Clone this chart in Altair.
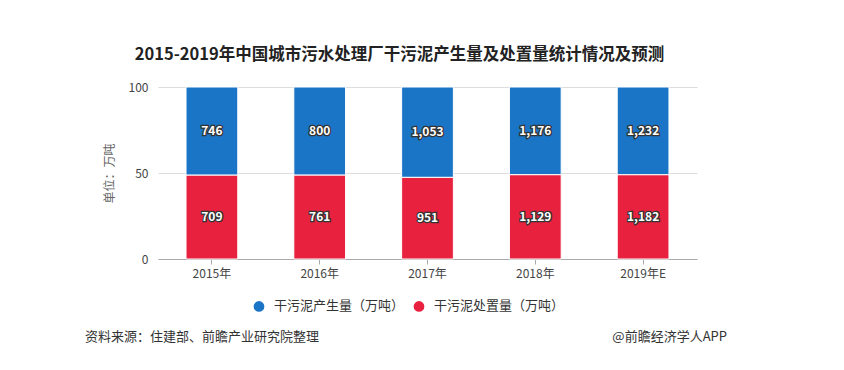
import altair as alt
import pandas as pd

years = ["2015年", "2016年", "2017年", "2018年", "2019年E"]
produced = [746, 800, 1053, 1176, 1232]
disposed = [709, 761, 951, 1129, 1182]
series_names = ["干污泥产生量（万吨）", "干污泥处置量（万吨）"]
colors = ["#1B75C6", "#E8213F"]

rows = []
for i, y in enumerate(years):
    rows.append({"year": y, "series": series_names[0], "value": produced[i], "ord": 1})
    rows.append({"year": y, "series": series_names[1], "value": disposed[i], "ord": 0})
df = pd.DataFrame(rows)

FONT = "Noto Sans CJK SC"

base = alt.Chart(df).transform_stack(
    stack="value", groupby=["year"], as_=["y0", "y1"], offset="normalize",
    sort=[alt.SortField("ord", order="ascending")]
).transform_calculate(
    mid="(datum.y0 + datum.y1) / 2",
    label="format(datum.value, ',')"
)

xenc = alt.X("year:N", sort=years, title=None,
             scale=alt.Scale(paddingInner=0.52, paddingOuter=0.26),
             axis=alt.Axis(labelAngle=0, labelFont=FONT, labelFontSize=12, labelColor="#444",
                           domainColor="#aaa", tickColor="#aaa", tickSize=5, labelPadding=4,
                           grid=False))

bars = base.mark_bar(stroke="white", strokeWidth=1).encode(
    x=xenc,
    y=alt.Y("y0:Q", scale=alt.Scale(domain=[0, 1]), title="单位：万吨",
            axis=alt.Axis(values=[0, 0.5, 1], labelExpr="datum.value * 100",
                          labelFont=FONT, labelFontSize=12, labelColor="#444",
                          domain=False, ticks=False, labelPadding=10,
                          gridColor="#dddddd", titleFont=FONT, titleFontSize=12,
                          titleFontWeight="normal", titleColor="#666", titlePadding=12)),
    y2="y1:Q",
    color=alt.Color("series:N", sort=series_names,
                    scale=alt.Scale(domain=series_names, range=colors),
                    legend=alt.Legend(title=None, orient="none", direction="horizontal",
                                      legendX=94, legendY=212, symbolType="circle",
                                      symbolSize=150, labelFont=FONT, labelFontSize=13,
                                      labelColor="#333", columnPadding=4, labelOffset=8)),
)

halo = base.mark_text(font=FONT, fontSize=12, fontWeight="bold", stroke="#333",
                      strokeWidth=2.5, fill="#333").encode(
    x=alt.X("year:N", sort=years), y=alt.Y("mid:Q"), text="label:N")
txt = base.mark_text(font=FONT, fontSize=12, fontWeight="bold", fill="white").encode(
    x=alt.X("year:N", sort=years), y=alt.Y("mid:Q"), text="label:N")

foot_df = pd.DataFrame({"t": ["资料来源：住建部、前瞻产业研究院整理"]})
foot_l = alt.Chart(foot_df).mark_text(font=FONT, fontSize=13, color="#333", align="left",
                                      baseline="middle").encode(
    x=alt.value(-73), y=alt.value(250), text="t:N")
foot_r_df = pd.DataFrame({"t": ["@前瞻经济学人APP"]})
foot_r = alt.Chart(foot_r_df).mark_text(font=FONT, fontSize=13, color="#333", align="right",
                                        baseline="middle").encode(
    x=alt.value(569), y=alt.value(250), text="t:N")

chart = alt.layer(bars, halo, txt, foot_l, foot_r).properties(
    width=539, height=172,
    autosize=alt.AutoSizeParams(type="none"),
    padding={"left": 150, "top": 79, "right": 139, "bottom": 103},
    title=alt.TitleParams("2015-2019年中国城市污水处理厂干污泥产生量及处置量统计情况及预测",
                          font=FONT, fontSize=16.5, fontWeight="bold", color="#222",
                          anchor="middle", dx=-28, offset=18),
).configure_view(stroke=None).configure_axis(gridWidth=1)

chart.save("out.html", embed_options={"renderer": "svg", "actions": False})
